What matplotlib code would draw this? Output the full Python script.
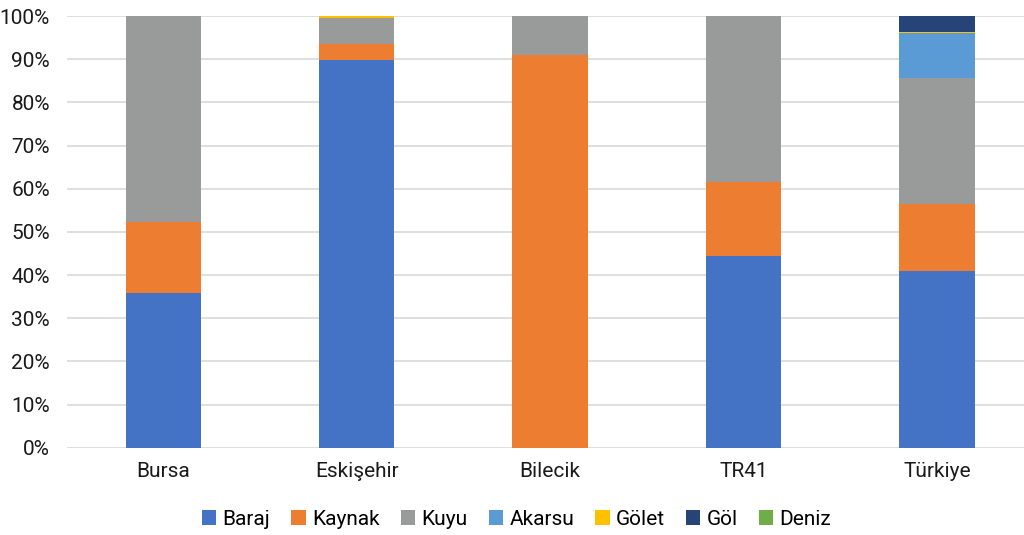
import matplotlib.pyplot as plt
import numpy as np
from matplotlib.ticker import PercentFormatter

plt.rcParams['font.family'] = ['Roboto', 'DejaVu Sans']

# kategoriler ve kaynak payları (%)
regions = ['Bursa', 'Eskişehir', 'Bilecik', 'TR41', 'Türkiye']
baraj = [35.9, 89.8, 0.0, 44.4, 41.0]
kaynak = [16.4, 3.7, 91.0, 17.2, 15.5]
kuyu = [47.7, 6.0, 9.0, 38.4, 29.1]
akarsu = [0.0, 0.0, 0.0, 0.0, 10.5]
golet = [0.0, 0.5, 0.0, 0.0, 0.3]
gol = [0.0, 0.0, 0.0, 0.0, 3.7]
deniz = [0.0, 0.0, 0.0, 0.0, 0.0]

series = [('Baraj', baraj, '#4472C4'),
          ('Kaynak', kaynak, '#ED7D31'),
          ('Kuyu', kuyu, '#999B9B'),
          ('Akarsu', akarsu, '#5B9BD5'),
          ('Gölet', golet, '#FFC000'),
          ('Göl', gol, '#264478'),
          ('Deniz', deniz, '#70AD47')]

fig = plt.figure(figsize=(10.24, 5.35), dpi=100)
ax = fig.add_axes([0.065, 0.163, 0.935, 0.807])

x = np.arange(len(regions))
bottom = np.zeros(len(regions))
for name, vals, col in series:
    vals = np.array(vals)
    ax.bar(x, vals, 0.39, bottom=bottom, color=col, label=name, zorder=3)
    bottom = bottom + vals

ax.set_ylim(0, 100)
ax.set_xlim(-0.5, 4.45)
ax.set_yticks(np.arange(0, 101, 10))
ax.yaxis.set_major_formatter(PercentFormatter(decimals=0))
ax.set_xticks(x)
ax.set_xticklabels(regions)
ax.tick_params(axis='both', length=0, labelsize=15, colors='#1a1a1a')
ax.tick_params(axis='x', pad=10)
ax.tick_params(axis='y', pad=12)
ax.grid(axis='y', color='#d9d9d9', linewidth=1.2, zorder=0)
for s in ax.spines.values():
    s.set_visible(False)

ax.legend(loc='upper center', bbox_to_anchor=(0.47, -0.1), ncol=7, frameon=False,
          fontsize=15, handlelength=0.7, handleheight=0.7, handletextpad=0.3,
          columnspacing=1.0)

fig.savefig('out.png', dpi=100)
